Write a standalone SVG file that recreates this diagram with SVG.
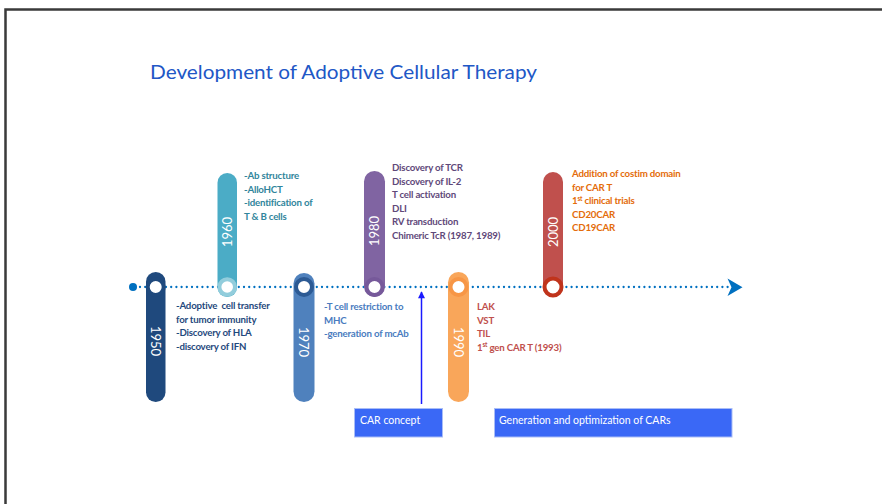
<svg xmlns="http://www.w3.org/2000/svg" width="882" height="504" viewBox="0 0 882 504">
  <style>
    .note { font-family: Lato, "Liberation Sans", sans-serif; font-size: 9.7px; font-weight: 700; letter-spacing: -0.2px; }
    .year { font-family: Lato, "Liberation Sans", sans-serif; font-size: 13px; fill: #ffffff; text-anchor: middle; }
    .ring { fill: #ffffff; stroke-width: 4; }
    .box { fill: #3a68f6; stroke: #a9bdf7; stroke-width: 1; }
    .boxtxt { font-family: Lato, "Liberation Sans", sans-serif; font-size: 10.5px; fill: #ffffff; }
    .sup { font-size: 6.5px; }
  </style>
  <defs>
    <marker id="upHead" viewBox="0 0 10 10" refX="9" refY="5" markerWidth="8" markerHeight="7" orient="auto" markerUnits="userSpaceOnUse">
      <path d="M0,0 L10,5 L0,10 Z" fill="#1a1aff"/>
    </marker>
  </defs>

  <rect width="882" height="504" fill="#ffffff"/>
  <!-- frame -->
  <path d="M5.5,504 V9.5 H882" fill="none" stroke="#3a3a3a" stroke-width="2.5"/>

  <!-- title -->
  <text x="150" y="79" font-family="Lato, 'Liberation Sans', sans-serif" font-size="20" fill="#2157c6" textLength="387" lengthAdjust="spacingAndGlyphs">Development of Adoptive Cellular Therapy</text>

  <!-- connectors: timeline and CAR concept pointer -->
  <g id="connectors">
    <line x1="140" y1="287" x2="728" y2="287" stroke="#0070c0" stroke-width="2.3" stroke-linecap="round" stroke-dasharray="0 5.2"/>
    <circle cx="133" cy="287" r="4" fill="#0070c0"/>
    <path d="M727.5,278.5 L742.5,287.3 L727.5,296 L731.5,287.3 Z" fill="#0070c0"/>
    <line x1="421.5" y1="404" x2="421.5" y2="292" stroke="#1a1aff" stroke-width="1.5" marker-end="url(#upHead)"/>
  </g>

  <g id="node-1950">
    <rect x="146" y="272" width="19.5" height="130" rx="9.75" fill="#1f497d"/>
    <circle class="ring" cx="155.7" cy="287" r="8" stroke="#1f497d"/>
    <text class="year" transform="translate(155.7,341) rotate(90)" dy="0.36em">1950</text>
    <text class="note" fill="#1f497d">
      <tspan x="176" y="309">-Adoptive&#160; cell transfer</tspan>
      <tspan x="176" y="322.5">for tumor immunity</tspan>
      <tspan x="176" y="336">-Discovery of HLA</tspan>
      <tspan x="176" y="349.5">-discovery of IFN</tspan>
    </text>
  </g>

  <g id="node-1960">
    <rect x="217.5" y="173" width="19.5" height="124" rx="9.75" fill="#4bacc6"/>
    <circle class="ring" cx="227.2" cy="287" r="7.8" stroke="#92cddc"/>
    <text class="year" transform="translate(227.2,232) rotate(-90)" dy="0.36em">1960</text>
    <text class="note" fill="#31859c">
      <tspan x="244" y="179">-Ab structure</tspan>
      <tspan x="244" y="192.5">-AlloHCT</tspan>
      <tspan x="244" y="206">-identification of</tspan>
      <tspan x="244" y="219.5">T &amp; B cells</tspan>
    </text>
  </g>

  <g id="node-1970">
    <rect x="293.5" y="273" width="21" height="129" rx="10.5" fill="#4f81bd"/>
    <circle class="ring" cx="304" cy="287" r="8" stroke="#2c5a94"/>
    <text class="year" transform="translate(304,342) rotate(90)" dy="0.36em">1970</text>
    <text class="note" fill="#4a7cc0">
      <tspan x="324" y="310">-T cell restriction to</tspan>
      <tspan x="324" y="323.5">MHC</tspan>
      <tspan x="324" y="337">-generation of mcAb</tspan>
    </text>
  </g>

  <g id="node-1980">
    <rect x="364" y="171" width="21" height="126" rx="10.5" fill="#8064a2"/>
    <circle class="ring" cx="374.5" cy="287" r="8" stroke="#76599a"/>
    <text class="year" transform="translate(374.5,231) rotate(-90)" dy="0.36em">1980</text>
    <text class="note" fill="#5f497a">
      <tspan x="392" y="171">Discovery of TCR</tspan>
      <tspan x="392" y="184.5">Discovery of IL-2</tspan>
      <tspan x="392" y="198">T cell activation</tspan>
      <tspan x="392" y="211.5">DLI</tspan>
      <tspan x="392" y="225">RV transduction</tspan>
      <tspan x="392" y="238.5">Chimeric TcR (1987, 1989)</tspan>
    </text>
  </g>

  <g id="node-1990">
    <rect x="448" y="272" width="21" height="130" rx="10.5" fill="#f9a65a"/>
    <circle class="ring" cx="458.5" cy="287" r="8" stroke="#f79646"/>
    <text class="year" transform="translate(458.5,342) rotate(90)" dy="0.36em">1990</text>
    <text class="note" fill="#c0504d">
      <tspan x="477" y="310">LAK</tspan>
      <tspan x="477" y="323.5">VST</tspan>
      <tspan x="477" y="337">TIL</tspan>
      <tspan x="477" y="350.5">1<tspan class="sup" dy="-3.5">st</tspan><tspan dy="3.5"> gen CAR T (1993)</tspan></tspan>
    </text>
  </g>

  <g id="node-2000">
    <rect x="543" y="172" width="20" height="125" rx="10" fill="#c0504d"/>
    <circle class="ring" cx="553" cy="287" r="8.5" stroke="#c0341c" stroke-width="4.5"/>
    <text class="year" transform="translate(553,232) rotate(-90)" dy="0.36em">2000</text>
    <text class="note" fill="#e46c0a">
      <tspan x="572" y="177">Addition of costim domain</tspan>
      <tspan x="572" y="190.5">for CAR T</tspan>
      <tspan x="572" y="204">1<tspan class="sup" dy="-3.5">st</tspan><tspan dy="3.5"> clinical trials</tspan></tspan>
      <tspan x="572" y="217.5">CD20CAR</tspan>
      <tspan x="572" y="231">CD19CAR</tspan>
    </text>
  </g>

  <g id="node-car-concept">
    <rect class="box" x="354.5" y="408.5" width="88" height="28.5"/>
    <text class="boxtxt" x="360" y="424">CAR concept</text>
  </g>

  <g id="node-car-generation">
    <rect class="box" x="494.5" y="408.5" width="237.5" height="28.5"/>
    <text class="boxtxt" x="499" y="424">Generation and optimization of CARs</text>
  </g>
</svg>
